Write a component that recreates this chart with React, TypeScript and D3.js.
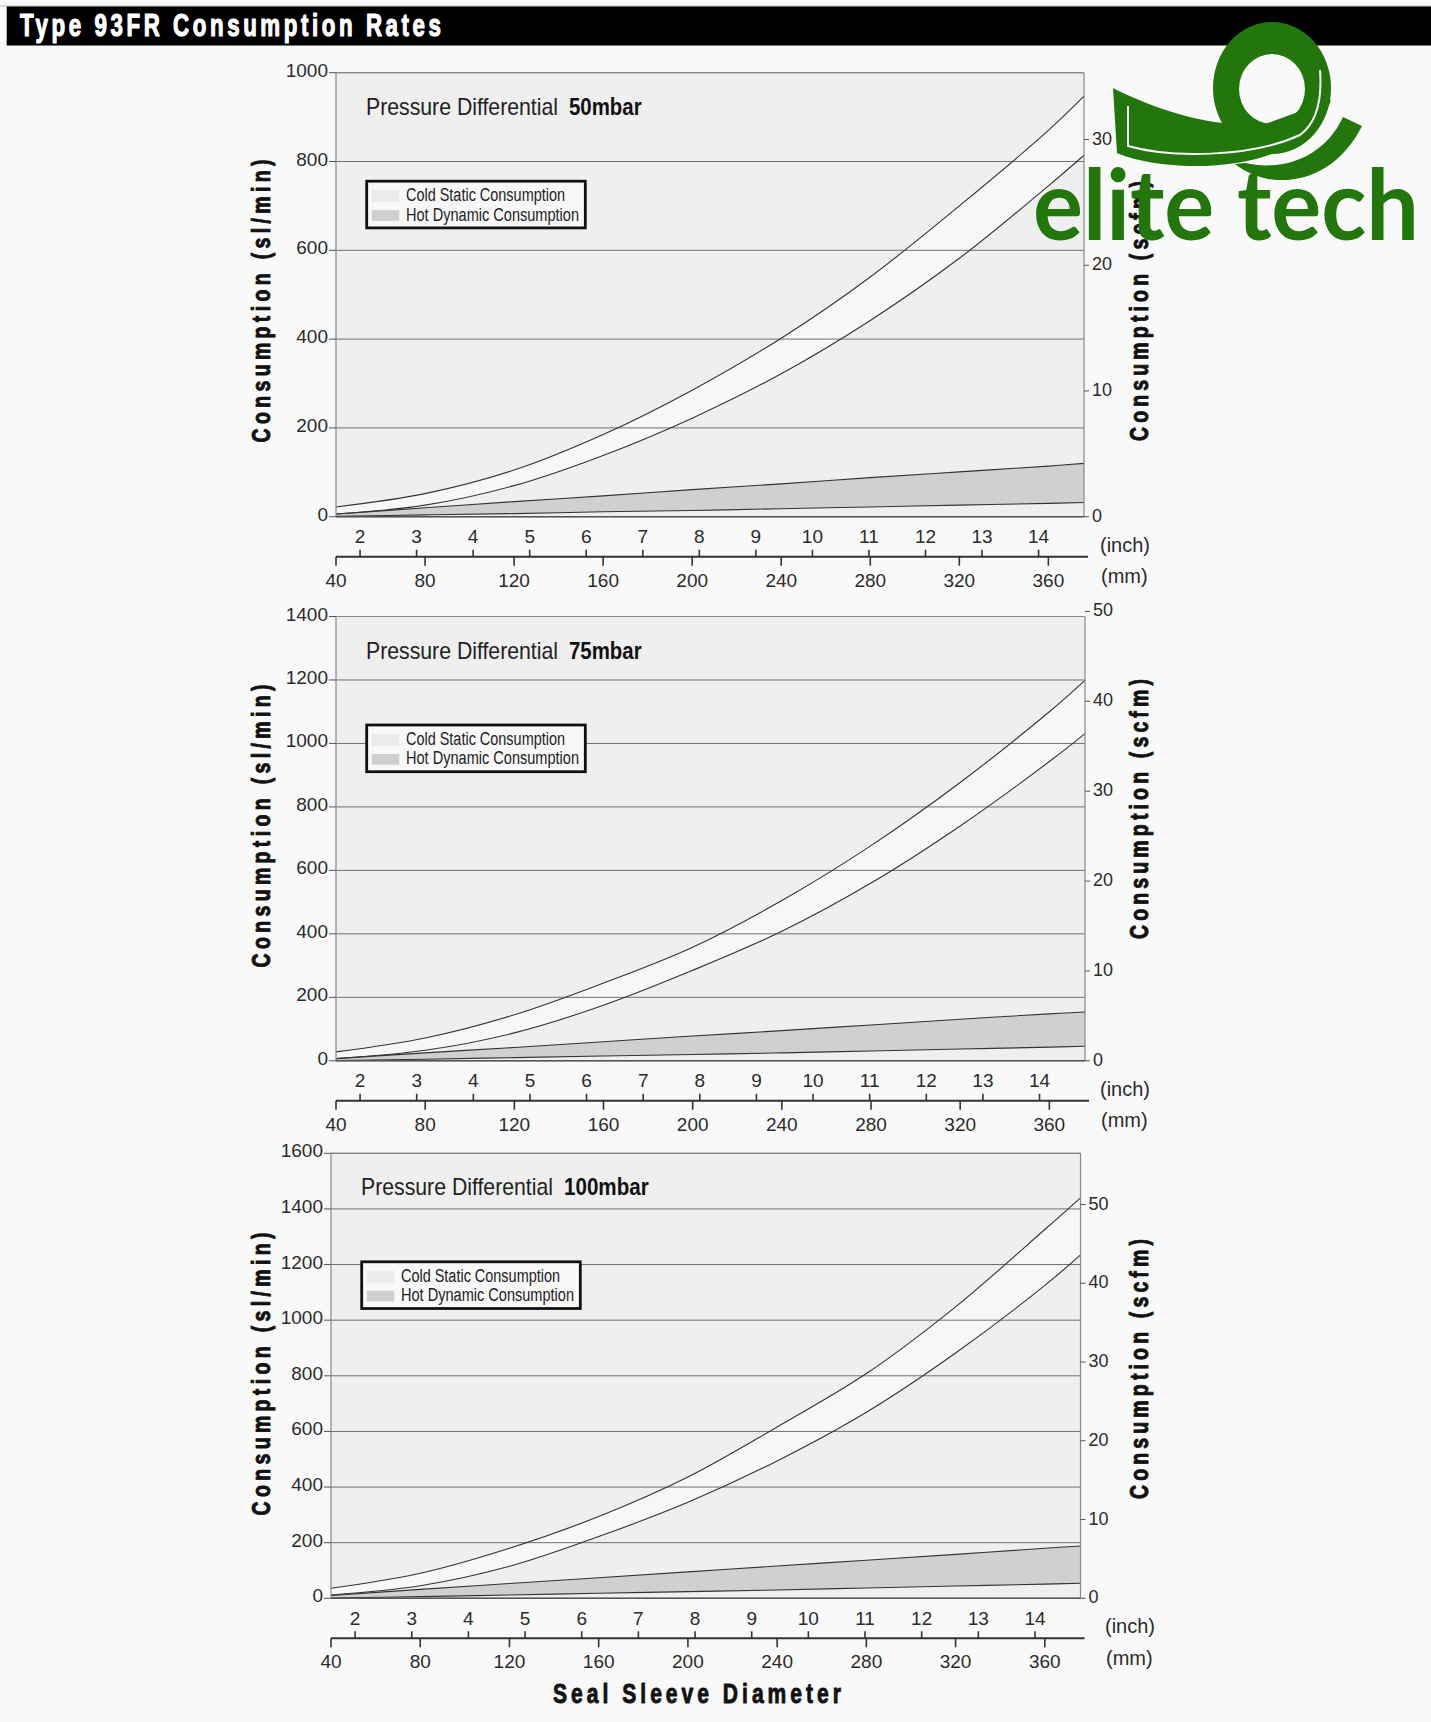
import React from "react";
import * as d3 from "d3";

// ---------- data ----------
const diameterMm = [40, 80, 120, 160, 200, 240, 280, 320, 360, 376];
const mmTickValues = [40, 80, 120, 160, 200, 240, 280, 320, 360];
const inchTickValues = [2, 3, 4, 5, 6, 7, 8, 9, 10, 11, 12, 13, 14];
const pressureLabels = ["50mbar", "75mbar", "100mbar"];
const slMinMax = [1000, 1400, 1600];
const scfmTicks50 = [0, 10, 20, 30];
const scfmTicks75 = [0, 10, 20, 30, 40, 50];
const scfmTicks100 = [0, 10, 20, 30, 40, 50];

const coldUpper50 = [22, 52, 105, 185, 285, 402, 540, 700, 870, 947];
const coldLower50 = [6, 26, 70, 138, 222, 322, 442, 582, 745, 814];
const hotUpper50 = [6, 20, 34, 47, 61, 74, 88, 101, 114, 120];
const hotLower50 = [1, 4, 7, 11, 14, 18, 22, 26, 30, 32];

const coldUpper75 = [28, 72, 145, 245, 358, 505, 678, 877, 1100, 1199];
const coldLower75 = [7, 33, 88, 175, 285, 408, 560, 740, 943, 1031];
const hotUpper75 = [7, 25, 42, 60, 78, 95, 113, 131, 148, 154];
const hotLower75 = [1, 5, 10, 15, 20, 25, 31, 37, 43, 46];

const coldUpper100 = [36, 90, 180, 294, 436, 616, 808, 1048, 1326, 1440];
const coldLower100 = [12, 45, 115, 222, 345, 494, 669, 882, 1125, 1235];
const hotUpper100 = [10, 32, 53, 74, 95, 116, 137, 158, 180, 188];
const hotLower100 = [1, 6, 12, 18, 24, 30, 37, 44, 51, 54];

const SL_PER_SCFM = 28.3168;
const MM_PER_INCH = 25.4;

// ---------- layout ----------
const W = 1431;
const H = 1722;
const panelLayouts = [
  { left: 336, right: 1084, top: 72.7, bottom: 516.7, leftLabelCy: 301, rightLabelCy: 311, inchX: 1100 },
  { left: 336, right: 1085, top: 616.5, bottom: 1060.8, leftLabelCy: 826, rightLabelCy: 809, inchX: 1100 },
  { left: 331, right: 1080.5, top: 1153.3, bottom: 1598.3, leftLabelCy: 1374, rightLabelCy: 1369, inchX: 1105 },
];

const SANS = "'Liberation Sans', Arial, Helvetica, sans-serif";
const NARROW = "'Liberation Sans Narrow', 'Arial Narrow', 'Liberation Sans', Arial, sans-serif";
const INK = "#2b2b2b";
const CURVE = d3.curveCatmullRom.alpha(0.5);

// condensed, letter-spaced heavy heading text
function Condensed({
  transform,
  width,
  size,
  squeeze,
  anchor,
  fill,
  weight,
  children,
}: {
  transform: string;
  width: number;
  size: number;
  squeeze: number;
  anchor?: string;
  fill: string;
  weight: number;
  children: string;
}) {
  return (
    <text
      transform={`${transform} scale(${squeeze},1)`}
      textAnchor={anchor || "start"}
      fontFamily={SANS}
      fontWeight="bold"
      fontSize={size}
      textLength={width / squeeze}
      lengthAdjust="spacing"
      fill={fill}
      stroke={fill}
      strokeWidth={weight}
      strokeLinejoin="round"
    >
      {children}
    </text>
  );
}

type PanelProps = {
  idx: number;
  yMax: number;
  scfmTicks: number[];
  pressure: string;
  coldU: number[];
  coldL: number[];
  hotU: number[];
  hotL: number[];
};

function Panel({ idx, yMax, scfmTicks, pressure, coldU, coldL, hotU, hotL }: PanelProps) {
  const L = panelLayouts[idx];
  const x = d3.scaleLinear().domain([40, 376]).range([L.left, L.right]);
  const y = d3.scaleLinear().domain([0, yMax]).range([L.bottom, L.top]);
  const yR = d3.scaleLinear().domain([0, yMax / SL_PER_SCFM]).range([L.bottom, L.top]);
  const yTicks = d3.range(0, yMax + 1, 200);

  const band = (upper: number[], lower: number[]) =>
    d3
      .area<number>()
      .x((_, i) => x(diameterMm[i]))
      .y0((_, i) => y(lower[i]))
      .y1((d) => y(d))
      .curve(CURVE)(upper) || "";
  const line = (vals: number[]) =>
    d3
      .line<number>()
      .x((_, i) => x(diameterMm[i]))
      .y((d) => y(d))
      .curve(CURVE)(vals) || "";

  const axisY = L.bottom + 40;
  const titleX = L.left + 30;
  const titleY = L.top + 42;
  const legX = L.left + 30.7;
  const legY = L.top + 108.5;

  return (
    <g>
      <rect x={L.left} y={L.top} width={L.right - L.left} height={L.bottom - L.top} fill="#efefef" />
      <path d={band(coldU, coldL)} fill="#f7f7f7" />
      {yTicks.map((t) => (
        <line key={"g" + t} x1={L.left} x2={L.right} y1={y(t)} y2={y(t)} stroke="#707070" strokeWidth={1} />
      ))}
      <path d={band(hotU, hotL)} fill="#d0d0d0" />
      {[coldU, coldL, hotU, hotL].map((s, i) => (
        <path key={"l" + i} d={line(s)} fill="none" stroke="#333" strokeWidth={1.1} />
      ))}
      <line x1={L.left} x2={L.right} y1={L.top} y2={L.top} stroke="#888" strokeWidth={1.2} />
      <line x1={L.left} x2={L.left} y1={L.top} y2={L.bottom} stroke="#888" strokeWidth={1.2} />
      <line x1={L.right} x2={L.right} y1={L.top} y2={L.bottom} stroke="#888" strokeWidth={1.2} />
      <line x1={L.left} x2={L.right} y1={L.bottom} y2={L.bottom} stroke="#555" strokeWidth={1.4} />

      {yTicks.map((t) => (
        <g key={"yl" + t}>
          <line x1={L.left - 7} x2={L.left} y1={y(t)} y2={y(t)} stroke="#555" strokeWidth={1} />
          <text x={L.left - 8} y={y(t) + 4} textAnchor="end" fontFamily={SANS} fontSize={19} fill={INK}>
            {t}
          </text>
        </g>
      ))}
      {scfmTicks.map((t) => (
        <g key={"yr" + t}>
          <line x1={L.right} x2={L.right + 5} y1={yR(t)} y2={yR(t)} stroke="#555" strokeWidth={1} />
          <text x={L.right + 8} y={yR(t) + 5} textAnchor="start" fontFamily={SANS} fontSize={18} fill={INK}>
            {t}
          </text>
        </g>
      ))}

      <Condensed
        transform={`translate(270,${L.leftLabelCy}) rotate(-90)`}
        width={283}
        size={25}
        squeeze={0.78}
        anchor="middle"
        fill="#111"
        weight={0.9}
      >
        Consumption (sl/min)
      </Condensed>
      <Condensed
        transform={`translate(1148,${L.rightLabelCy}) rotate(-90)`}
        width={260}
        size={25}
        squeeze={0.78}
        anchor="middle"
        fill="#111"
        weight={0.9}
      >
        Consumption (scfm)
      </Condensed>

      <line x1={L.left} x2={L.right + 4} y1={axisY} y2={axisY} stroke="#333" strokeWidth={2} />
      {mmTickValues.map((t) => (
        <g key={"mm" + t}>
          <line x1={x(t)} x2={x(t)} y1={axisY} y2={axisY + 9} stroke="#333" strokeWidth={1.6} />
          <text x={x(t)} y={L.bottom + 70} textAnchor="middle" fontFamily={SANS} fontSize={19} fill={INK}>
            {t}
          </text>
        </g>
      ))}
      {inchTickValues.map((t) => (
        <g key={"in" + t}>
          <line
            x1={x(t * MM_PER_INCH)}
            x2={x(t * MM_PER_INCH)}
            y1={axisY}
            y2={axisY - 7}
            stroke="#333"
            strokeWidth={1.6}
          />
          <text
            x={x(t * MM_PER_INCH)}
            y={L.bottom + 26.6}
            textAnchor="middle"
            fontFamily={SANS}
            fontSize={19}
            fill={INK}
          >
            {t}
          </text>
        </g>
      ))}
      <text x={L.inchX} y={L.bottom + 35} fontFamily={SANS} fontSize={20} fill={INK}>
        (inch)
      </text>
      <text x={L.inchX + 1} y={L.bottom + 66.5} fontFamily={SANS} fontSize={20} fill={INK}>
        (mm)
      </text>

      <text
        x={titleX}
        y={titleY}
        fontFamily={NARROW}
        fontSize={24}
        textLength={192}
        lengthAdjust="spacingAndGlyphs"
        fill="#222"
      >
        Pressure Differential
      </text>
      <text
        x={titleX + 203}
        y={titleY}
        fontFamily={NARROW}
        fontWeight="bold"
        fontSize={24}
        textLength={12.1 * pressure.length}
        lengthAdjust="spacingAndGlyphs"
        fill="#111"
      >
        {pressure}
      </text>

      <rect x={legX} y={legY} width={218.6} height={46.7} fill="#f8f8f8" stroke="#111" strokeWidth={2.8} />
      <rect x={legX + 5} y={legY + 9} width={27.6} height={11.7} fill="#ebebeb" />
      <rect x={legX + 5} y={legY + 29} width={27.6} height={10.7} fill="#cfcfcf" />
      <text
        x={legX + 39.3}
        y={legY + 19.7}
        fontFamily={NARROW}
        fontSize={18}
        textLength={159}
        lengthAdjust="spacingAndGlyphs"
        fill="#222"
      >
        Cold Static Consumption
      </text>
      <text
        x={legX + 39.3}
        y={legY + 39.4}
        fontFamily={NARROW}
        fontSize={18}
        textLength={173}
        lengthAdjust="spacingAndGlyphs"
        fill="#222"
      >
        Hot Dynamic Consumption
      </text>
    </g>
  );
}

function Logo() {
  const green = "#23760c";
  return (
    <g>
      <path
        fillRule="evenodd"
        fill={green}
        d="M1331,88 A59,66 0 1,1 1213,88 A59,66 0 1,1 1331,88 Z M1305,89 A33,35 0 1,0 1239,89 A33,35 0 1,0 1305,89 Z"
      />
      <path
        fill={green}
        d="M1113,88 C1160,112 1215,128 1265,124 L1331,100 C1318,142 1265,166 1195,166 C1160,166 1130,159 1117,153 Z"
      />
      <path
        fill="none"
        stroke="#f9f9f9"
        strokeWidth={2}
        d="M1128,106 L1128,146 C1170,158 1250,158 1300,135 C1318,122 1322,96 1320,70"
      />
      <path fill={green} d="M1235,164 C1270,192 1332,186 1362,126 L1343,117 C1325,156 1285,172 1245,163 Z" />
      <text
        x={1033}
        y={240}
        fontFamily="Lato, 'Open Sans', sans-serif"
        fontWeight="bold"
        fontSize={98}
        textLength={386}
        lengthAdjust="spacingAndGlyphs"
        fill={green}
      >
        elite tech
      </text>
    </g>
  );
}

export default function App() {
  const panelData = [
    { yMax: slMinMax[0], scfmTicks: scfmTicks50, coldU: coldUpper50, coldL: coldLower50, hotU: hotUpper50, hotL: hotLower50 },
    { yMax: slMinMax[1], scfmTicks: scfmTicks75, coldU: coldUpper75, coldL: coldLower75, hotU: hotUpper75, hotL: hotLower75 },
    { yMax: slMinMax[2], scfmTicks: scfmTicks100, coldU: coldUpper100, coldL: coldLower100, hotU: hotUpper100, hotL: hotLower100 },
  ];
  return (
    <svg
      width={W}
      height={H}
      viewBox={`0 0 ${W} ${H}`}
      style={{ position: "absolute", left: 0, top: 0, display: "block" }}
    >
      <rect x={0} y={0} width={W} height={H} fill="#f9f9f9" />
      <line x1={0} x2={W} y1={6} y2={6} stroke="#bbb" strokeWidth={1} />
      <rect x={6.7} y={6.5} width={W - 6.7} height={39} fill="#000" />
      <Condensed transform="translate(20,36)" width={421} size={31} squeeze={0.72} fill="#fff" weight={1.2}>
        Type 93FR Consumption Rates
      </Condensed>
      {panelData.map((p, i) => (
        <Panel key={i} idx={i} pressure={pressureLabels[i]} {...p} />
      ))}
      <Condensed
        transform="translate(697,1703)"
        width={288}
        size={27}
        squeeze={0.78}
        anchor="middle"
        fill="#111"
        weight={0.9}
      >
        Seal Sleeve Diameter
      </Condensed>
      <Logo />
    </svg>
  );
}
